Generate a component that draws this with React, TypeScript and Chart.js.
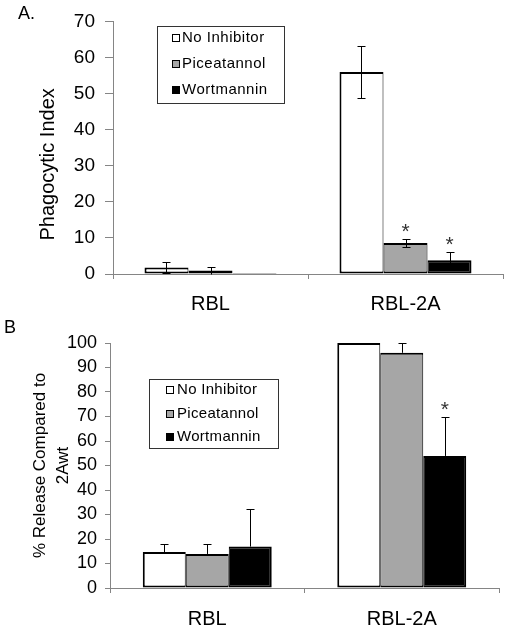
import React, { useEffect, useRef } from "react";
import { Chart, registerables } from "chart.js";

Chart.register(...registerables);

const FONT = "'Liberation Sans', Arial, Helvetica, sans-serif";

// ---- shared ----
const categories = ["RBL", "RBL-2A"];
const seriesNames = ["No Inhibitor", "Piceatannol", "Wortmannin"];
const seriesColors = ["#ffffff", "#a6a6a6", "#000000"];

// ---- Panel A: Phagocytic Index ----
const phagoNoInhibitor = [1.8, 56];
const phagoPiceatannol = [1.0, 8.6];
const phagoWortmannin = [0.3, 3.8];
const phagoErrNoInhibitor = [1.4, 7.1];
const phagoErrPiceatannol = [1.0, 1.0];
const phagoErrWortmannin = [0, 2.2];
const phagoStarNoInhibitor = [false, false];
const phagoStarPiceatannol = [false, true];
const phagoStarWortmannin = [false, true];
const phagoAxisMax = 70;
const phagoAxisStep = 10;

// ---- Panel B: % Release ----
const releaseNoInhibitor = [14.7, 100];
const releasePiceatannol = [13.9, 96];
const releaseWortmannin = [16.9, 53.9];
const releaseErrNoInhibitor = [3.2, 0];
const releaseErrPiceatannol = [4.0, 4.0];
const releaseErrWortmannin = [15.4, 15.7];
const releaseStarNoInhibitor = [false, false];
const releaseStarPiceatannol = [false, false];
const releaseStarWortmannin = [false, true];
const releaseAxisMax = 100;
const releaseAxisStep = 10;

const AXIS_GRAY = "#858585";

const errorBarPlugin = {
  id: "errorBars",
  afterDatasetsDraw(chart: any, _args: any, opts: any) {
    const ctx = chart.ctx;
    const yScale = chart.scales.y;
    const cap = 4;
    ctx.save();
    ctx.strokeStyle = "#000";
    ctx.lineWidth = 1;
    chart.data.datasets.forEach((ds: any, i: number) => {
      const meta = chart.getDatasetMeta(i);
      meta.data.forEach((bar: any, j: number) => {
        const v = ds.data[j];
        const e = ds.errorBars ? ds.errorBars[j] : 0;
        const x = Math.round(bar.x) + 0.5;
        let topPx = bar.y;
        if (e) {
          topPx = Math.round(yScale.getPixelForValue(v + e)) + 0.5;
          const lowPx = opts.twoSided
            ? Math.round(yScale.getPixelForValue(Math.max(v - e, 0))) + 0.5
            : bar.y;
          ctx.beginPath();
          ctx.moveTo(x, topPx);
          ctx.lineTo(x, lowPx);
          ctx.moveTo(x - cap, topPx);
          ctx.lineTo(x + cap, topPx);
          if (opts.twoSided && v - e > 0) {
            ctx.moveTo(x - cap, lowPx);
            ctx.lineTo(x + cap, lowPx);
          }
          ctx.stroke();
        }
        if (ds.stars && ds.stars[j]) {
          ctx.fillStyle = "#333";
          ctx.font = `21px ${FONT}`;
          ctx.textAlign = "center";
          ctx.textBaseline = "alphabetic";
          ctx.fillText("*", bar.x, topPx - 2);
        }
      });
    });
    ctx.restore();
  },
};

const boxLegendPlugin = {
  id: "boxLegend",
  afterDraw(chart: any, _args: any, o: any) {
    const ctx = chart.ctx;
    ctx.save();
    ctx.fillStyle = "#fff";
    ctx.fillRect(o.x, o.y, o.w, o.h);
    ctx.strokeStyle = "#333";
    ctx.lineWidth = 1;
    ctx.strokeRect(o.x + 0.5, o.y + 0.5, o.w, o.h);
    ctx.font = `${o.fontSize}px ${FONT}`;
    ctx.textBaseline = "middle";
    ctx.textAlign = "left";
    try {
      (ctx as any).letterSpacing = o.letterSpacing;
    } catch (e) {
      /* ignore */
    }
    chart.data.datasets.forEach((ds: any, i: number) => {
      const cy = o.rows[i];
      ctx.fillStyle = ds.backgroundColor;
      ctx.fillRect(o.swatchX, cy - 4, 8, 8);
      ctx.strokeStyle = "#000";
      ctx.strokeRect(o.swatchX + 0.5, cy - 3.5, 7, 7);
      ctx.fillStyle = "#000";
      ctx.fillText(ds.label, o.textX, cy);
    });
    ctx.restore();
  },
};

const panelLetterPlugin = {
  id: "panelLetter",
  afterDraw(chart: any, _args: any, o: any) {
    const ctx = chart.ctx;
    ctx.save();
    ctx.fillStyle = "#000";
    ctx.font = `${o.fontSize}px ${FONT}`;
    ctx.textAlign = "left";
    ctx.textBaseline = "middle";
    ctx.fillText(o.text, o.x, o.y);
    ctx.restore();
  },
};

function makeDatasets(values: number[][], errors: number[][], stars: boolean[][]) {
  const borders = [
    { left: 2, right: 1, top: 2, bottom: 2 },
    { left: 1, right: 1, top: 2, bottom: 2 },
    { left: 1, right: 2, top: 2, bottom: 2 },
  ];
  return values.map((vals, i) => ({
    label: seriesNames[i],
    data: vals,
    backgroundColor: seriesColors[i],
    borderColor: "#000",
    borderWidth: borders[i],
    borderSkipped: false,
    inflateAmount: 0,
    errorBars: errors[i],
    stars: stars[i],
  }));
}

interface PanelCfg {
  values: number[][];
  errors: number[][];
  stars: boolean[][];
  max: number;
  step: number;
  yTitle: string | string[];
  yTitleSize: number;
  yTitleLineHeight: number;
  yTitlePad: number;
  yWidth: number;
  yTickLen: number;
  yTickPad: number;
  yTickSize: number;
  top: number;
  bottom: number;
  right: number;
  catPct: number;
  xPad: number;
  twoSided: boolean;
  legend: any;
  letter: any;
}

function buildConfig(c: PanelCfg, H: number, W: number): any {
  return {
    type: "bar",
    data: { labels: categories, datasets: makeDatasets(c.values, c.errors, c.stars) },
    plugins: [errorBarPlugin, boxLegendPlugin, panelLetterPlugin],
    options: {
      responsive: false,
      animation: false,
      devicePixelRatio: 1,
      layout: { padding: { left: 0, right: W - c.right, top: c.top, bottom: 0 } },
      datasets: { bar: { categoryPercentage: c.catPct, barPercentage: 1 } },
      plugins: {
        legend: { display: false },
        tooltip: { enabled: false },
        title: { display: false },
        errorBars: { twoSided: c.twoSided },
        boxLegend: c.legend,
        panelLetter: c.letter,
      },
      scales: {
        x: {
          grid: {
            drawOnChartArea: false,
            drawTicks: true,
            tickLength: 5,
            color: AXIS_GRAY,
            offset: true,
          },
          border: { color: AXIS_GRAY, width: 1 },
          ticks: { font: { family: FONT, size: 20 }, color: "#000", padding: c.xPad },
          afterFit: (s: any) => {
            s.height = H - c.bottom;
          },
        },
        y: {
          min: 0,
          max: c.max,
          ticks: {
            stepSize: c.step,
            autoSkip: false,
            font: { family: FONT, size: c.yTickSize },
            color: "#000",
            padding: c.yTickPad,
          },
          grid: { drawOnChartArea: false, drawTicks: true, tickLength: c.yTickLen, color: AXIS_GRAY },
          border: { color: AXIS_GRAY, width: 1 },
          title: {
            display: true,
            text: c.yTitle,
            color: "#000",
            font: { family: FONT, size: c.yTitleSize, lineHeight: c.yTitleLineHeight },
            padding: { top: c.yTitlePad, bottom: 0 },
          },
          afterFit: (s: any) => {
            s.width = c.yWidth;
          },
        },
      },
    },
  };
}

const W = 507;
const H = 315;

export default function App() {
  const refA = useRef<HTMLCanvasElement | null>(null);
  const refB = useRef<HTMLCanvasElement | null>(null);

  useEffect(() => {
    Chart.defaults.font.family = FONT;
    const cfgA: PanelCfg = {
      values: [phagoNoInhibitor, phagoPiceatannol, phagoWortmannin],
      errors: [phagoErrNoInhibitor, phagoErrPiceatannol, phagoErrWortmannin],
      stars: [phagoStarNoInhibitor, phagoStarPiceatannol, phagoStarWortmannin],
      max: phagoAxisMax,
      step: phagoAxisStep,
      yTitle: "Phagocytic Index      ",
      yTitleSize: 20,
      yTitleLineHeight: 1.2,
      yTitlePad: 36,
      yWidth: 113,
      yTickLen: 8,
      yTickPad: 10,
      yTickSize: 19,
      top: 20,
      bottom: 274,
      right: 503,
      catPct: 0.677,
      xPad: 13,
      twoSided: true,
      legend: { x: 157, y: 26, w: 127, h: 77, swatchX: 172, textX: 182, rows: [38, 64, 90], fontSize: 15, letterSpacing: "0.5px" },
      letter: { text: "A.", x: 18, y: 14, fontSize: 18 },
    };
    const cfgB: PanelCfg = {
      values: [releaseNoInhibitor, releasePiceatannol, releaseWortmannin],
      errors: [releaseErrNoInhibitor, releaseErrPiceatannol, releaseErrWortmannin],
      stars: [releaseStarNoInhibitor, releaseStarPiceatannol, releaseStarWortmannin],
      max: releaseAxisMax,
      step: releaseAxisStep,
      yTitle: ["% Release Compared to", "2Awt"],
      yTitleSize: 17,
      yTitleLineHeight: 1.35,
      yTitlePad: 29,
      yWidth: 110,
      yTickLen: 5,
      yTickPad: 8,
      yTickSize: 18,
      top: 28,
      bottom: 273,
      right: 499,
      catPct: 0.663,
      xPad: 14,
      twoSided: false,
      legend: { x: 149, y: 64, w: 129, h: 69, swatchX: 166, textX: 177, rows: [75, 99, 122], fontSize: 15, letterSpacing: "0.3px" },
      letter: { text: "B", x: 4, y: 13, fontSize: 18 },
    };
    const a = new Chart(refA.current as HTMLCanvasElement, buildConfig(cfgA, H, W));
    const b = new Chart(refB.current as HTMLCanvasElement, buildConfig(cfgB, H, W));
    return () => {
      a.destroy();
      b.destroy();
    };
  }, []);

  return (
    <div style={{ position: "absolute", left: 0, top: 0, width: W, height: 2 * H, background: "#fff" }}>
      <canvas ref={refA} width={W} height={H} style={{ position: "absolute", left: 0, top: 0 }} />
      <canvas ref={refB} width={W} height={H} style={{ position: "absolute", left: 0, top: H }} />
    </div>
  );
}
